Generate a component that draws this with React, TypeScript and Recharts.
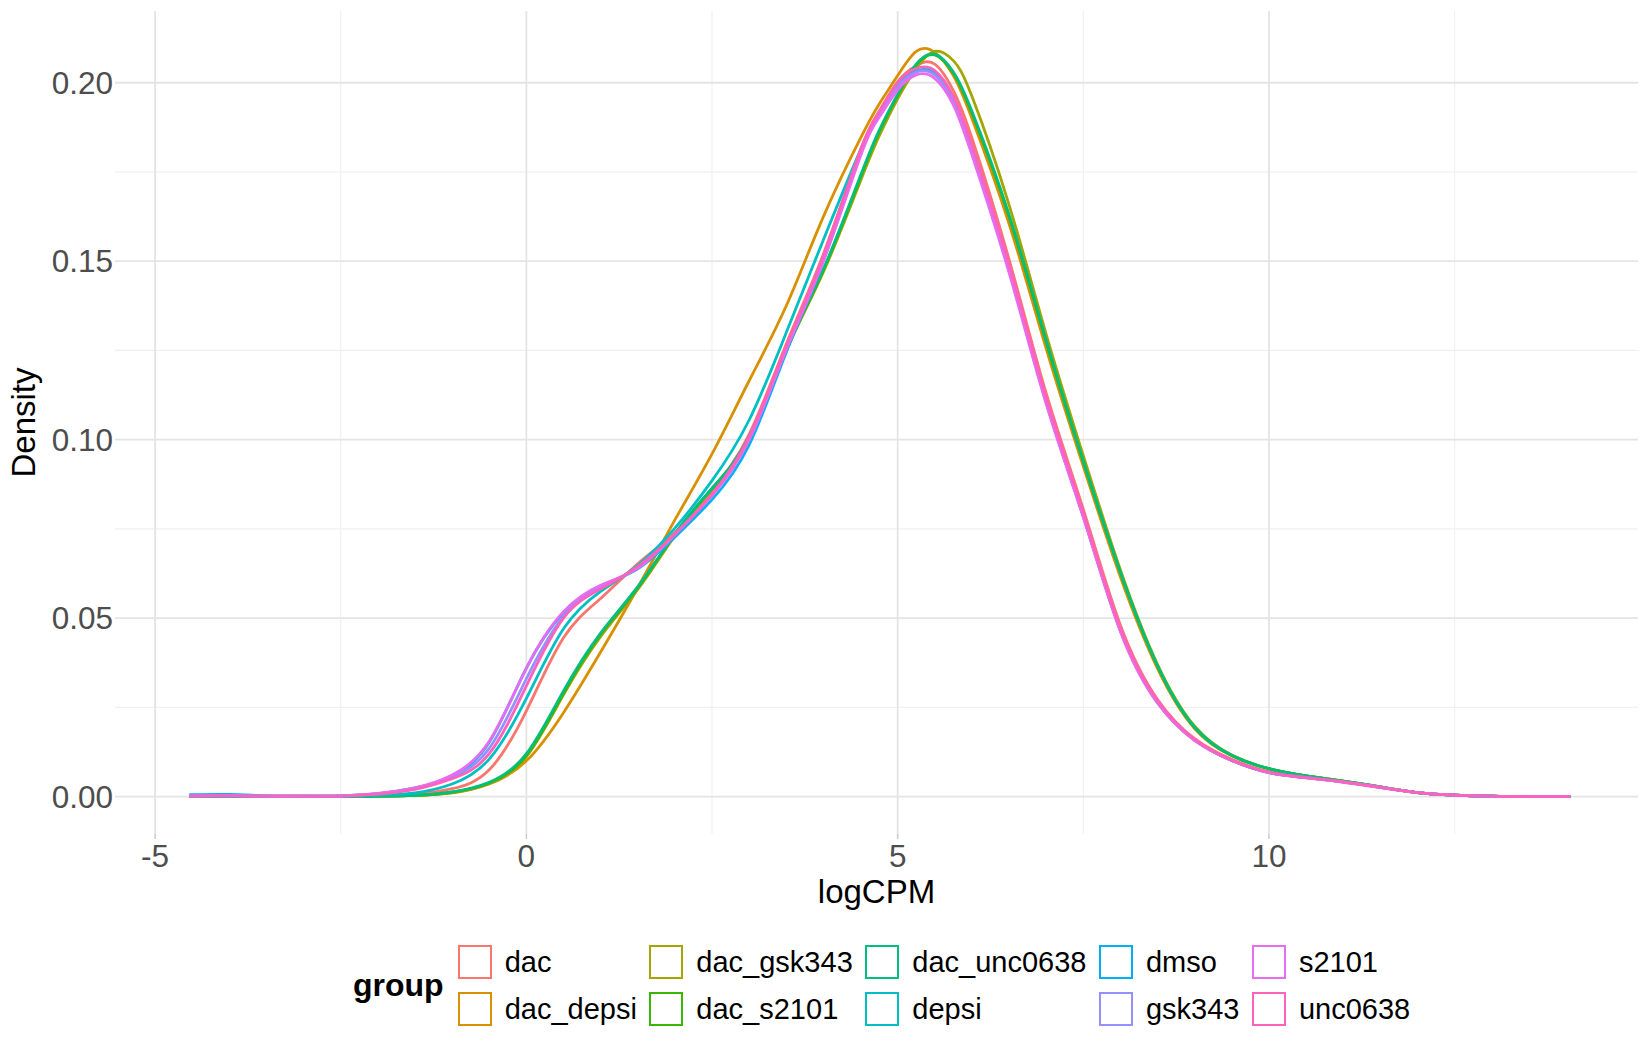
import { LineChart, Line, XAxis, YAxis, CartesianGrid, Label } from "recharts";

const logCPM = [
  -4.54, -4, -3.5, -3, -2.5, -2, -1.5, -1, -0.5,
  0, 0.5, 1, 1.5, 2, 2.5, 3, 3.5, 4, 4.5,
  4.75, 5, 5.25, 5.5, 5.75, 6,
  6.5, 7, 7.5, 8, 8.5, 9, 9.5,
  10, 10.5, 11, 11.5, 12, 12.5, 13, 13.5, 14.06,
];

const groups = [
  "dac", "dac_depsi", "dac_gsk343", "dac_s2101", "dac_unc0638",
  "depsi", "dmso", "gsk343", "s2101", "unc0638",
];

const colors = [
  "#F8766D", "#D89000", "#A3A500", "#39B600", "#00BF7D",
  "#00BFC4", "#00B0F6", "#9590FF", "#E76BF3", "#FF62BC",
];

const dac = [
  0.0001, 0.0001, 0.0001, 0.0001, 0.0001, 0.0002, 0.0007, 0.0022, 0.0075,
  0.024, 0.0445, 0.0555, 0.0652, 0.074, 0.0858, 0.1015, 0.1268, 0.152, 0.1812,
  0.192, 0.2003, 0.2048, 0.2052, 0.1978, 0.1845,
  0.1505, 0.113, 0.0805, 0.048, 0.0272, 0.0162, 0.0104,
  0.0069, 0.0054, 0.0041, 0.0026, 0.0011, 0.0004, 0.0001, 0, 0,
];

const dac_depsi = [
  0, 0, 0, 0, 0, 0.0001, 0.0003, 0.001, 0.0035,
  0.01, 0.0235, 0.0405, 0.0585, 0.0775, 0.096, 0.1165, 0.1375, 0.1625, 0.1845,
  0.194, 0.202, 0.2088, 0.2085, 0.202, 0.19,
  0.1605, 0.1255, 0.0925, 0.0615, 0.0358, 0.019, 0.0114,
  0.0077, 0.0058, 0.0043, 0.0027, 0.0011, 0.0004, 0.0001, 0, 0,
];

const dac_gsk343 = [
  0, 0, 0, 0, 0, 0.0001, 0.0003, 0.0011, 0.0037,
  0.0112, 0.0285, 0.0448, 0.058, 0.073, 0.086, 0.1, 0.1248, 0.147, 0.1725,
  0.185, 0.1955, 0.204, 0.2088, 0.2062, 0.1962,
  0.1658, 0.1295, 0.0955, 0.0635, 0.037, 0.0197, 0.0116,
  0.0078, 0.0058, 0.0043, 0.0027, 0.0011, 0.0004, 0.0001, 0, 0,
];

const dac_s2101 = [
  0, 0, 0, 0, 0, 0.0001, 0.0003, 0.0012, 0.0038,
  0.0115, 0.029, 0.0455, 0.0585, 0.0735, 0.0862, 0.1005, 0.1252, 0.1475, 0.1735,
  0.1862, 0.1965, 0.205, 0.2078, 0.2027, 0.1915,
  0.1625, 0.1273, 0.0938, 0.0627, 0.0365, 0.0193, 0.0115,
  0.0078, 0.0058, 0.0043, 0.0027, 0.0011, 0.0004, 0.0001, 0, 0,
];

const dac_unc0638 = [
  0, 0, 0, 0, 0, 0.0001, 0.0003, 0.0013, 0.004,
  0.012, 0.0296, 0.0458, 0.0588, 0.0736, 0.0864, 0.1008, 0.1255, 0.1478, 0.174,
  0.1866, 0.1968, 0.2052, 0.208, 0.203, 0.192,
  0.163, 0.1278, 0.094, 0.0628, 0.0366, 0.0194, 0.0115,
  0.0078, 0.0058, 0.0043, 0.0027, 0.0011, 0.0004, 0.0001, 0, 0,
];

const depsi = [
  0.0001, 0.0001, 0.0001, 0.0001, 0.0001, 0.0003, 0.001, 0.0035, 0.0105,
  0.0275, 0.047, 0.0575, 0.0648, 0.0752, 0.0885, 0.1055, 0.13, 0.156, 0.1812,
  0.1915, 0.1992, 0.2033, 0.2026, 0.1952, 0.1812,
  0.1478, 0.1105, 0.0785, 0.0466, 0.0266, 0.0158, 0.0101,
  0.0067, 0.0053, 0.0041, 0.0026, 0.0011, 0.0004, 0.0001, 0, 0,
];

const dmso = [
  0.0005, 0.0006, 0.0002, 0.0001, 0.0002, 0.0008, 0.0024, 0.0057, 0.0152,
  0.036, 0.0515, 0.059, 0.0638, 0.0727, 0.0832, 0.0985, 0.1245, 0.1502, 0.18,
  0.1908, 0.199, 0.2032, 0.2024, 0.195, 0.1808,
  0.1478, 0.1108, 0.0787, 0.0465, 0.0263, 0.0158, 0.0101,
  0.0067, 0.0053, 0.0041, 0.0026, 0.0011, 0.0004, 0.0001, 0, 0,
];

const gsk343 = [
  0.0002, 0.0002, 0.0001, 0.0001, 0.0002, 0.0008, 0.0022, 0.0055, 0.0135,
  0.033, 0.0505, 0.0588, 0.0641, 0.0733, 0.0845, 0.1, 0.1255, 0.1508, 0.1803,
  0.1908, 0.1988, 0.203, 0.2022, 0.1948, 0.1805,
  0.1475, 0.1105, 0.0786, 0.0465, 0.0263, 0.0158, 0.0101,
  0.0067, 0.0053, 0.0041, 0.0026, 0.0011, 0.0004, 0.0001, 0, 0,
];

const s2101 = [
  0.0002, 0.0003, 0.0001, 0.0001, 0.0002, 0.0009, 0.0024, 0.006, 0.0155,
  0.036, 0.0518, 0.0592, 0.064, 0.0735, 0.0843, 0.1, 0.1252, 0.15, 0.1795,
  0.1903, 0.198, 0.2022, 0.2012, 0.1938, 0.1798,
  0.1468, 0.11, 0.0782, 0.0462, 0.0262, 0.0157, 0.0101,
  0.0067, 0.0052, 0.004, 0.0025, 0.0011, 0.0004, 0.0001, 0, 0,
];

const unc0638 = [
  0.0001, 0.0002, 0.0001, 0.0001, 0.0001, 0.0007, 0.002, 0.005, 0.012,
  0.031, 0.05, 0.0582, 0.0645, 0.0735, 0.0848, 0.1008, 0.1262, 0.1515, 0.1812,
  0.1918, 0.2, 0.204, 0.2034, 0.1962, 0.1825,
  0.1492, 0.1118, 0.0795, 0.0472, 0.0269, 0.016, 0.0102,
  0.0068, 0.0053, 0.0041, 0.0026, 0.0011, 0.0004, 0.0001, 0, 0,
];

const densities: Record<string, number[]> = {
  dac, dac_depsi, dac_gsk343, dac_s2101, dac_unc0638,
  depsi, dmso, gsk343, s2101, unc0638,
};

const xTicks = [-5, 0, 5, 10];
const xMinor = [-2.5, 2.5, 7.5, 12.5];
const yTicks = [0, 0.05, 0.1, 0.15, 0.2];
const yMinor = [0.025, 0.075, 0.125, 0.175];

const data = logCPM.map((x, i) => {
  const row: Record<string, number> = { x };
  groups.forEach((g) => {
    row[g] = densities[g][i];
  });
  return row;
});

// legend is laid out column by column, two rows each
const legendColumns = [0, 2, 4, 6, 8].map((i) => [i, i + 1]);

export default function App() {
  return (
    <div
      style={{
        position: "absolute",
        left: 0,
        top: 0,
        width: 1650,
        height: 1050,
        background: "#fff",
        fontFamily: "'Liberation Sans', Arial, Helvetica, sans-serif",
      }}
    >
      <LineChart
        width={1650}
        height={1050}
        data={data}
        margin={{ top: 11, right: 12, bottom: 136, left: 0 }}
      >
        <CartesianGrid
          stroke="#f0f0f0"
          strokeWidth={1.2}
          horizontalValues={yMinor}
          verticalValues={xMinor}
        />
        <CartesianGrid
          stroke="#e4e4e4"
          strokeWidth={1.8}
          horizontalValues={yTicks}
          verticalValues={xTicks}
        />

        <XAxis
          type="number"
          dataKey="x"
          domain={[-5.54, 14.97]}
          ticks={xTicks}
          allowDataOverflow
          axisLine={false}
          tickLine={{ stroke: "#c8c8c8", strokeWidth: 1.5 }}
          tickSize={5}
          tickMargin={6}
          height={80}
          tick={{ fill: "#4D4D4D", fontSize: 31.5 }}
        >
          <Label
            value="logCPM"
            position="insideTop"
            offset={46}
            fill="#000"
            fontSize={33}
          />
        </XAxis>

        <YAxis
          type="number"
          domain={[-0.0105, 0.2201]}
          ticks={yTicks}
          allowDataOverflow
          axisLine={false}
          tickLine={false}
          tickSize={0}
          tickMargin={2}
          width={115}
          tickFormatter={(v: number) => v.toFixed(2)}
          tick={{ fill: "#4D4D4D", fontSize: 31.5 }}
        >
          <Label
            value="Density"
            angle={-90}
            position="insideLeft"
            offset={23}
            fill="#000"
            fontSize={33}
            style={{ textAnchor: "middle" }}
          />
        </YAxis>

        {groups.map((g, i) => (
          <Line
            key={g}
            type="natural"
            dataKey={g}
            stroke={colors[i]}
            strokeWidth={2.8}
            dot={false}
            activeDot={false}
            isAnimationActive={false}
          />
        ))}
      </LineChart>

      <div
        style={{
          position: "absolute",
          left: 353,
          top: 945,
          display: "flex",
          alignItems: "center",
        }}
      >
        <div style={{ fontWeight: 700, fontSize: 32, marginRight: 14 }}>
          group
        </div>
        <div style={{ display: "flex", columnGap: 12.5 }}>
          {legendColumns.map((col, ci) => (
            <div
              key={ci}
              style={{ display: "flex", flexDirection: "column", rowGap: 13 }}
            >
              {col.map((gi) => (
                <div
                  key={groups[gi]}
                  style={{ display: "flex", alignItems: "center", height: 34 }}
                >
                  <div
                    style={{
                      width: 34,
                      height: 34,
                      boxSizing: "border-box",
                      border: `2.5px solid ${colors[gi]}`,
                      marginRight: 13,
                    }}
                  />
                  <span style={{ fontSize: 29, color: "#000" }}>
                    {groups[gi]}
                  </span>
                </div>
              ))}
            </div>
          ))}
        </div>
      </div>
    </div>
  );
}
